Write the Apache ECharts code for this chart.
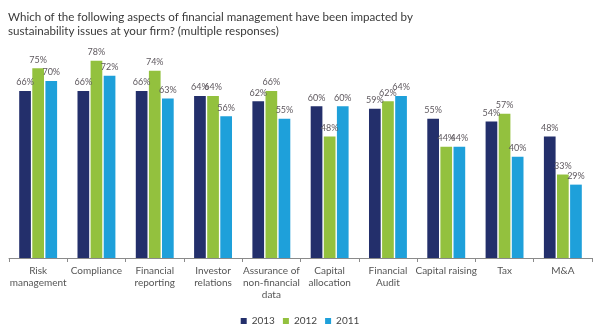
<!DOCTYPE html>
<html>
<head>
<meta charset="utf-8">
<script src="https://cdn.jsdelivr.net/npm/echarts@6/dist/echarts.min.js"></script>
<style>
  html, body { margin: 0; padding: 0; background: #fff; }
  #chart { width: 600px; height: 326px; }
</style>
</head>
<body>
<div id="chart"></div>
<script>
// Survey: areas of financial management affected by sustainability issues
const categories = [
  'Risk\nmanagement', 'Compliance', 'Financial\nreporting', 'Investor\nrelations',
  'Assurance of\nnon-financial\ndata', 'Capital\nallocation', 'Financial\nAudit',
  'Capital raising', 'Tax', 'M&A'
];
const values2013 = [66, 66, 66, 64, 62, 60, 59, 55, 54, 48];
const values2012 = [75, 78, 74, 64, 66, 48, 62, 44, 57, 33];
const values2011 = [70, 72, 63, 56, 55, 60, 64, 44, 40, 29];
const seriesNames = ['2013', '2012', '2011'];
const titleText = 'Which of the following aspects of financial management have been impacted by\nsustainability issues at your firm? (multiple responses)';

const colors = ['#232f6b', '#93c13e', '#1ea0da'];
const fontFamily = 'Lato, "Open Sans", sans-serif';

function makeSeries(name, data, color) {
  return {
    name: name,
    type: 'bar',
    data: data,
    barWidth: 11.7,
    barGap: '12%',
    itemStyle: { color: color },
    label: {
      show: true,
      position: 'top',
      distance: 4,
      formatter: '{c}%',
      color: '#5e585e',
      fontFamily: fontFamily,
      fontSize: 9
    }
  };
}

const chart = echarts.init(document.getElementById('chart'), null, { renderer: 'canvas' });
chart.setOption({
  animation: false,
  backgroundColor: '#ffffff',
  color: colors,
  title: {
    text: titleText,
    left: 3,
    top: 5,
    textStyle: {
      fontFamily: fontFamily,
      fontSize: 11.6,
      fontWeight: 'normal',
      color: '#3a3a3a',
      lineHeight: 14
    }
  },
  legend: {
    top: 311,
    left: 'center',
    itemWidth: 6,
    itemHeight: 6,
    itemGap: 8,
    icon: 'rect',
    textStyle: { fontFamily: fontFamily, fontSize: 10, color: '#444' },
    data: seriesNames
  },
  grid: { left: 9, right: 8, top: 5, bottom: 68, containLabel: false },
  xAxis: {
    type: 'category',
    data: categories,
    axisLine: { lineStyle: { color: '#8a8a8a', width: 1 } },
    axisTick: { show: true, length: 4, lineStyle: { color: '#8a8a8a' } },
    axisLabel: {
      interval: 0,
      margin: 7,
      fontFamily: fontFamily,
      fontSize: 10,
      lineHeight: 12,
      color: '#555'
    }
  },
  yAxis: {
    type: 'value',
    min: 0,
    max: 100,
    show: false,
    splitLine: { show: false }
  },
  series: [
    makeSeries(seriesNames[0], values2013, colors[0]),
    makeSeries(seriesNames[1], values2012, colors[1]),
    makeSeries(seriesNames[2], values2011, colors[2])
  ]
});
</script>
</body>
</html>
